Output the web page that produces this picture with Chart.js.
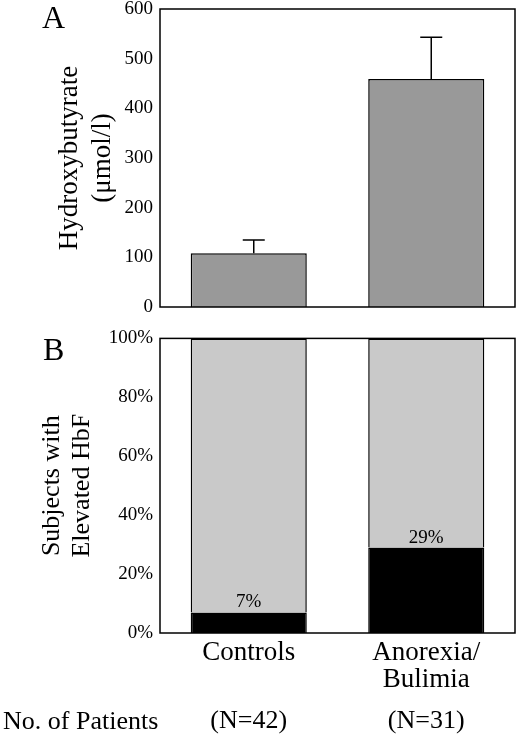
<!DOCTYPE html>
<html><head><meta charset="utf-8">
<script src="https://cdn.jsdelivr.net/npm/chart.js@4.4.0/dist/chart.umd.min.js"></script>
<style>
html,body{margin:0;padding:0;background:#fff;width:520px;height:739px;overflow:hidden;position:relative;}
.box{position:absolute;left:0;width:520px;}
.lbl{position:absolute;font-family:"Liberation Serif","Times New Roman",serif;color:#000;white-space:nowrap;}
</style></head><body>
<div class="box" style="top:-10px;height:340px"><canvas id="cA"></canvas></div>
<div class="box" style="top:320px;height:419px"><canvas id="cB"></canvas></div>
<div class="lbl" style="left:42px;top:1px;font-size:32px;line-height:32px">A</div>
<div class="lbl" style="left:43px;top:333px;font-size:32px;line-height:32px">B</div>
<div class="lbl" style="left:3px;top:708px;font-size:26px;line-height:26px">No. of Patients</div>
<script>
// ---- data ----
const categories = ['Controls', ['Anorexia/', 'Bulimia']];
const patientCounts = ['(N=42)', '(N=31)'];
const hydroxyMean = [108, 459];
const hydroxyErrTop = [135, 543];
const elevatedPct = [7, 29];
const notElevatedPct = [93, 71];
const pctTickLabels = ['0%', '20%', '40%', '60%', '80%', '100%'];
const hydroxyTitle = ['Hydroxybutyrate', '(\u03BCmol/l)'];
const hbfTitle = ['Subjects with', 'Elevated HbF'];

Chart.defaults.font.family = '"Liberation Serif","Times New Roman",serif';
Chart.defaults.color = '#000';
Chart.defaults.animation = false;

const frame = {
  id: 'frame',
  afterDatasetsDraw(chart) {
    const a = chart.chartArea, ctx = chart.ctx;
    ctx.save(); ctx.strokeStyle = '#000'; ctx.lineWidth = 1.5;
    ctx.strokeRect(a.left, a.top, a.right - a.left, a.bottom - a.top);
    ctx.restore();
  }
};
const errorBars = {
  id: 'errorBars',
  afterDatasetsDraw(chart) {
    const ctx = chart.ctx, y = chart.scales.y;
    const meta = chart.getDatasetMeta(0);
    ctx.save(); ctx.strokeStyle = '#000'; ctx.lineWidth = 1.5;
    meta.data.forEach((bar, i) => {
      const yTop = y.getPixelForValue(hydroxyErrTop[i]);
      const x = bar.x + 5;
      ctx.beginPath();
      ctx.moveTo(x, bar.y); ctx.lineTo(x, yTop);
      ctx.moveTo(x - 11, yTop); ctx.lineTo(x + 11, yTop);
      ctx.stroke();
    });
    ctx.restore();
  }
};
const pctLabels = {
  id: 'pctLabels',
  afterDatasetsDraw(chart) {
    const ctx = chart.ctx;
    const meta = chart.getDatasetMeta(0);
    ctx.save(); ctx.fillStyle = '#000';
    ctx.font = '19px "Liberation Serif","Times New Roman",serif';
    ctx.textAlign = 'center'; ctx.textBaseline = 'alphabetic';
    meta.data.forEach((bar, i) => {
      ctx.fillText(elevatedPct[i] + '%', bar.x, bar.y - 5);
    });
    ctx.restore();
  }
};

new Chart(document.getElementById('cA'), {
  type: 'bar',
  data: {
    labels: categories,
    datasets: [{
      data: hydroxyMean,
      backgroundColor: '#999999',
      borderColor: '#000',
      borderWidth: 1.5,
      borderSkipped: 'start',
      categoryPercentage: 1,
      barPercentage: 0.654
    }]
  },
  options: {
    responsive: true, maintainAspectRatio: false,
    layout: { padding: { top: 19, bottom: 23, left: 0, right: 5 } },
    plugins: { legend: { display: false }, tooltip: { enabled: false } },
    scales: {
      x: { display: false },
      y: {
        min: 0, max: 600,
        ticks: { stepSize: 100, padding: 7, font: { size: 19 }, color: '#000' },
        grid: { display: false, drawTicks: false },
        border: { display: false },
        title: { display: true, text: hydroxyTitle, font: { size: 27, lineHeight: 1.22 }, color: '#000', padding: { top: 53.5, bottom: 0 } },
        afterFit(s) { s.width = 160; }
      }
    }
  },
  plugins: [errorBars, frame]
});

new Chart(document.getElementById('cB'), {
  type: 'bar',
  data: {
    labels: categories,
    datasets: [{
      data: elevatedPct,
      backgroundColor: '#000',
      borderColor: '#000',
      borderWidth: 1.5,
      categoryPercentage: 1,
      barPercentage: 0.654
    }, {
      data: notElevatedPct,
      backgroundColor: '#c9c9c9',
      borderColor: '#000',
      borderWidth: 1.5,
      borderSkipped: 'start',
      categoryPercentage: 1,
      barPercentage: 0.654
    }]
  },
  options: {
    responsive: true, maintainAspectRatio: false,
    layout: { padding: { top: 17, bottom: 0, left: 0, right: 5 } },
    plugins: { legend: { display: false }, tooltip: { enabled: false } },
    scales: {
      x: {
        stacked: true,
        grid: { display: false, drawTicks: false },
        border: { display: false },
        ticks: { padding: 6.5, font: { size: 27, lineHeight: 1.0 }, color: '#000', maxRotation: 0 },
        afterFit(s) { s.height = 60; }
      },
      xN: {
        type: 'category',
        position: 'bottom',
        labels: patientCounts,
        grid: { display: false, drawTicks: false },
        border: { display: false },
        ticks: { padding: 14.5, font: { size: 26, lineHeight: 1.04 }, color: '#000', maxRotation: 0 },
        afterFit(s) { s.height = 46; }
      },
      y: {
        stacked: true,
        min: 0, max: 100,
        ticks: { stepSize: 20, padding: 7, font: { size: 19 }, color: '#000',
          callback: (v) => pctTickLabels[Math.round(v / 20)] },
        grid: { display: false, drawTicks: false },
        border: { display: false },
        title: { display: true, text: hbfTitle, font: { size: 26, lineHeight: 1.154 }, color: '#000', padding: { top: 37, bottom: 0 } },
        afterFit(s) { s.width = 160; }
      }
    }
  },
  plugins: [pctLabels, frame]
});
</script>
</body></html>
